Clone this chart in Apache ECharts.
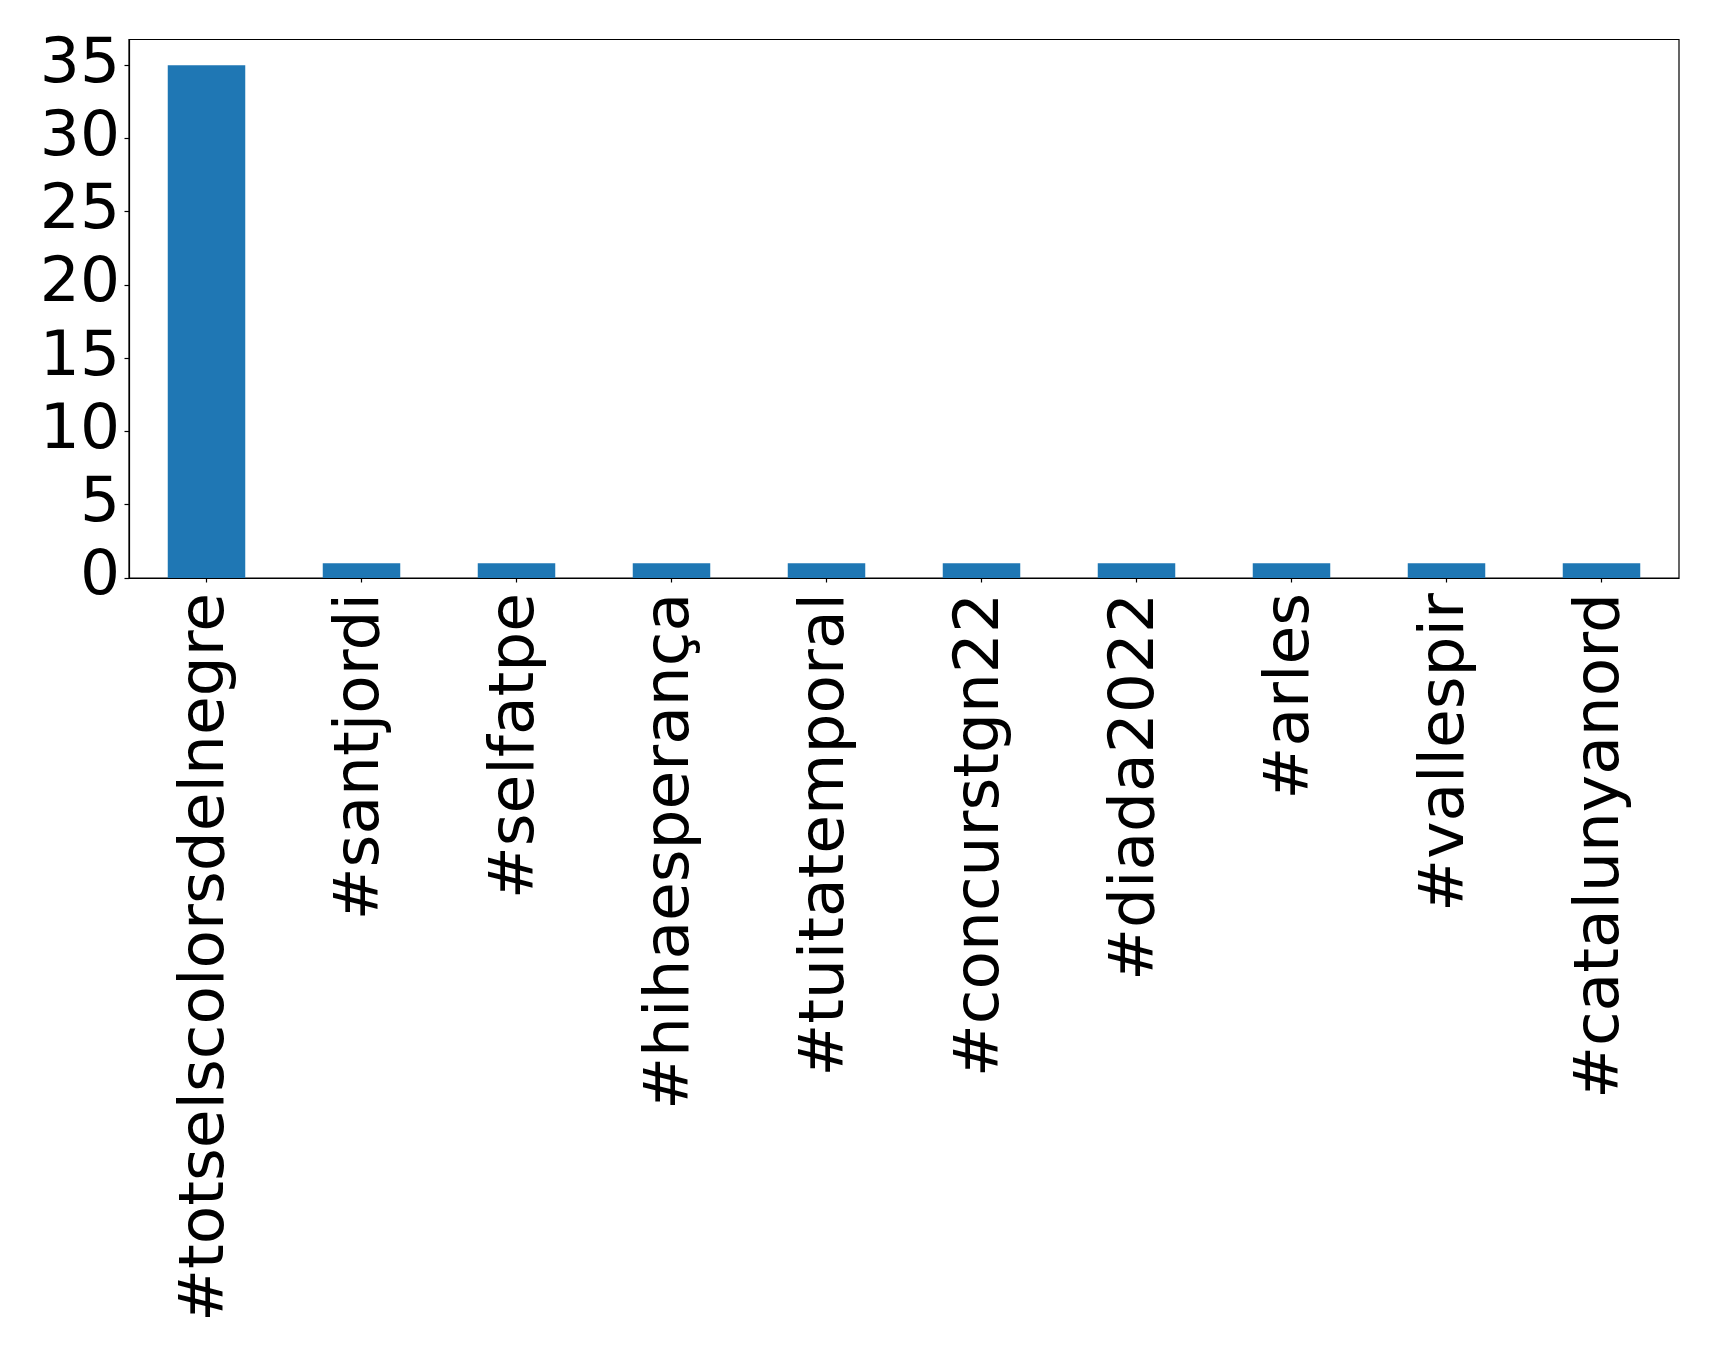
<!DOCTYPE html>
<html>
<head>
<meta charset="utf-8">
<script src="https://cdn.jsdelivr.net/npm/echarts@6/dist/echarts.min.js"></script>
<style>
html,body{margin:0;padding:0;background:#fff;}
#chart{width:1719px;height:1351px;}
</style>
</head>
<body>
<div id="chart"></div>
<script>
const categories = ['#totselscolorsdelnegre', '#santjordi', '#selfatpe', '#hihaesperança', '#tuitatemporal', '#concurstgn22', '#diada2022', '#arles', '#vallespir', '#catalunyanord'];
const counts = [35, 1, 1, 1, 1, 1, 1, 1, 1, 1];
const yTicks = [0, 5, 10, 15, 20, 25, 30, 35];

const chart = echarts.init(document.getElementById('chart'), null, {renderer: 'canvas'});
const font = 'DejaVu Sans';
chart.setOption({
  animation: false,
  backgroundColor: '#ffffff',
  grid: {left: 129, top: 39.5, right: 40, bottom: 773, show: true, borderColor: '#000', borderWidth: 1.2, backgroundColor: 'transparent'},
  xAxis: {
    type: 'category',
    data: categories,
    boundaryGap: true,
    axisLine: {show: true, lineStyle: {color: '#000', width: 1.2}},
    axisTick: {show: true, alignWithLabel: true, length: 4.5, lineStyle: {color: '#000', width: 1.2}},
    axisLabel: {rotate: 90, margin: 15, fontSize: 63, fontFamily: font, color: '#000', interval: 0, padding: [6, 0, 0, 0]}
  },
  yAxis: {
    type: 'value',
    min: 0,
    max: 36.75,
    interval: 5,
    splitLine: {show: false},
    axisLine: {show: true, lineStyle: {color: '#000', width: 1.2}},
    axisTick: {show: true, length: 4.5, lineStyle: {color: '#000', width: 1.2}, customValues: yTicks},
    axisLabel: {fontSize: 63, fontFamily: font, color: '#000', margin: 9, customValues: yTicks}
  },
  series: [{
    type: 'bar',
    data: counts,
    barWidth: '50%',
    itemStyle: {color: '#1f77b4'}
  }]
});
</script>
</body>
</html>
